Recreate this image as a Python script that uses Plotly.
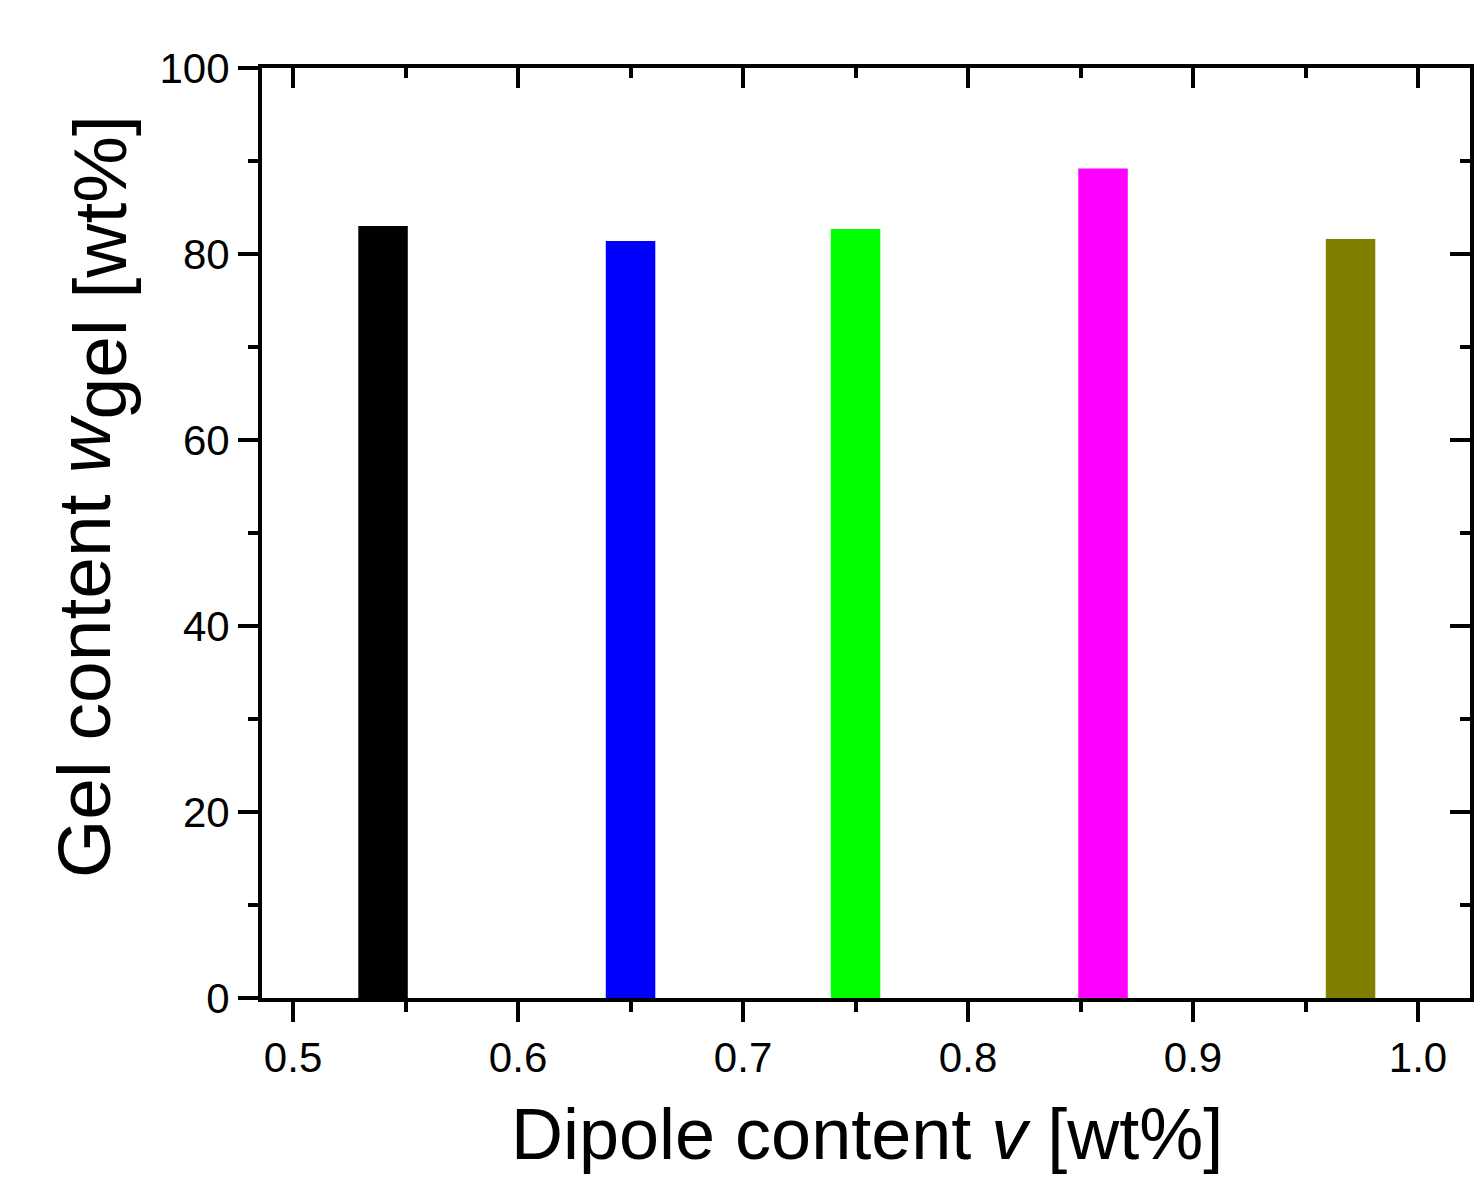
import plotly.graph_objects as go

dipole_content = [0.54, 0.65, 0.75, 0.86, 0.97]
gel_content = [83.0, 81.4, 82.7, 89.2, 81.6]
bar_colors = ["#000000", "#0000FF", "#00FF00", "#FF00FF", "#808000"]
x_ticks = [0.5, 0.6, 0.7, 0.8, 0.9, 1.0]
x_tick_labels = ["0.5", "0.6", "0.7", "0.8", "0.9", "1.0"]
y_ticks = [0, 20, 40, 60, 80, 100]

FONT = "Liberation Sans, Arial, sans-serif"
XR = [0.4862, 1.0231]
YR = [0, 100]

fig = go.Figure()
fig.add_trace(go.Bar(
    x=dipole_content, y=gel_content, width=0.022,
    marker=dict(color=bar_colors, line=dict(width=0)),
    showlegend=False,
))

common = dict(showgrid=False, zeroline=False, showline=True, linecolor="black",
              linewidth=4, tickwidth=4, tickcolor="black", automargin=False)

fig.update_layout(
    width=1476, height=1178,
    margin=dict(l=262, r=6, t=68, b=180),
    paper_bgcolor="white", plot_bgcolor="white",
    font=dict(family=FONT, color="black"),
    xaxis=dict(range=XR, tickvals=x_ticks, ticktext=x_tick_labels,
               ticks="outside", ticklen=20,
               minor=dict(dtick=0.05, tick0=0.5, ticks="outside", ticklen=10,
                          tickwidth=4, tickcolor="black"),
               tickfont=dict(size=42, family=FONT),
               **common),
    yaxis=dict(range=YR, tickvals=y_ticks,
               ticks="outside", ticklen=20,
               minor=dict(dtick=10, tick0=0, ticks="outside", ticklen=10,
                          tickwidth=4, tickcolor="black"),
               tickfont=dict(size=42, family=FONT),
               **common),
    xaxis2=dict(range=XR, overlaying="x", side="top", tickvals=x_ticks,
                showticklabels=False, ticks="inside", ticklen=20,
                minor=dict(dtick=0.05, tick0=0.5, ticks="inside", ticklen=10,
                           tickwidth=4, tickcolor="black"),
                **common),
    yaxis2=dict(range=YR, overlaying="y", side="right", tickvals=y_ticks,
                showticklabels=False, ticks="inside", ticklen=20,
                minor=dict(dtick=10, tick0=0, ticks="inside", ticklen=10,
                           tickwidth=4, tickcolor="black"),
                **common),
)
fig.add_trace(go.Scatter(x=[None], y=[None], xaxis="x2", yaxis="y2",
                         showlegend=False, hoverinfo="skip"))

fig.add_annotation(
    text="Dipole content <i>v</i> [wt%]",
    xref="paper", yref="paper",
    x=(867 - 262) / 1208, y=(998 - 1134) / 930,
    xanchor="center", yanchor="middle", showarrow=False,
    font=dict(size=72, family=FONT, color="black"),
)
fig.add_annotation(
    text="Gel content <i>w</i><sub><span style='font-size:75px'>gel [wt%]</span></sub>",
    xref="paper", yref="paper",
    x=(92 - 262) / 1208, y=(998 - 497) / 930,
    xanchor="center", yanchor="middle", textangle=-90, showarrow=False,
    font=dict(size=75, family=FONT, color="black"),
)

fig.write_html("out.html")
